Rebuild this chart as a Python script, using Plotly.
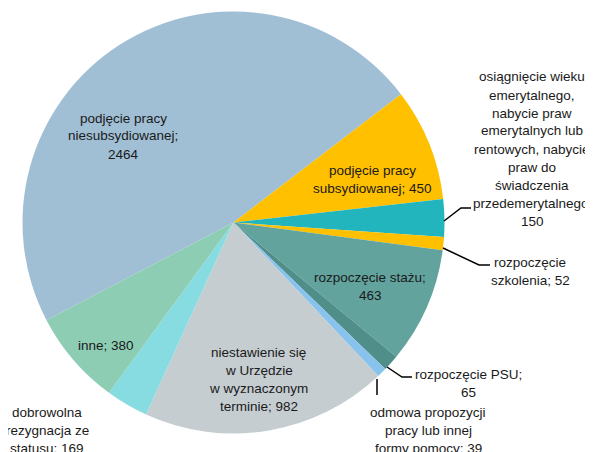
import plotly.graph_objects as go

# page body has an 8px default margin; figure sized so the page fits the window
OFF = 8
W, H = 593 - OFF, 452 - OFF

categories = [
    "podjęcie pracy niesubsydiowanej",
    "podjęcie pracy subsydiowanej",
    "osiągnięcie wieku emerytalnego, nabycie praw emerytalnych lub rentowych, nabycie praw do świadczenia przedemerytalnego",
    "rozpoczęcie szkolenia",
    "rozpoczęcie stażu",
    "rozpoczęcie PSU",
    "odmowa propozycji pracy lub innej formy pomocy",
    "niestawienie się w Urzędzie w wyznaczonym terminie",
    "dobrowolna rezygnacja ze statusu",
    "inne",
]
values = [2464, 450, 150, 52, 463, 65, 39, 982, 169, 380]
colors = ["#A0BFD5", "#FFC000", "#22B5BE", "#FFC000", "#62A39E",
          "#4F8E89", "#87C3EC", "#C5CDD1", "#87DCE1", "#8DCDB4"]

label_lines = [
    ["podjęcie pracy", "niesubsydiowanej;", "2464"],
    ["podjęcie pracy", "subsydiowanej; 450"],
    ["osiągnięcie wieku", "emerytalnego,", "nabycie praw", "emerytalnych lub",
     "rentowych, nabycie", "praw do", "świadczenia", "przedemerytalnego;", "150"],
    ["rozpoczęcie", "szkolenia; 52"],
    ["rozpoczęcie stażu;", "463"],
    ["rozpoczęcie PSU;", "65"],
    ["odmowa propozycji", "pracy lub innej", "formy pomocy; 39"],
    ["niestawienie się", "w Urzędzie", "w wyznaczonym", "terminie; 982"],
    ["dobrowolna", "rezygnacja ze", "statusu; 169"],
    ["inne; 380"],
]
# label placement (center x, first line y) in window pixels
label_pos = [(123, 118), (372, 170), (532, 77), (530, 262), (370, 277),
             (468, 374), (428, 412), (259, 352), (47, 412), (106, 345)]
LINE = 18

FONT = "Liberation Sans, Arial, sans-serif"

cx, cy, r = 233.5, 222.5, 211


def px(x):
    return (x - OFF) / W


def py(y):
    return 1 - (y - OFF) / H


fig = go.Figure(go.Pie(
    labels=categories,
    values=values,
    sort=False,
    direction="clockwise",
    rotation=242.4,
    marker=dict(colors=colors, line=dict(width=0)),
    textinfo="none",
    hoverinfo="label+value",
    showlegend=False,
    domain=dict(x=[px(cx - r), px(cx + r)], y=[py(cy + r), py(cy - r)]),
))

annotations = []
for lines, (x0, y0) in zip(label_lines, label_pos):
    for i, t in enumerate(lines):
        annotations.append(dict(
            x=px(x0), y=py(y0 + i * LINE), xref="paper", yref="paper",
            text=t, showarrow=False, xanchor="center", yanchor="middle",
            font=dict(family=FONT, size=13.5, color="#1a1a1a"),
        ))

leaders = [
    [(444, 221), (461, 208), (471, 208)],
    [(443, 248), (479, 265), (490, 265)],
    [(387, 367), (402, 377), (412, 377)],
    [(377, 379), (377, 395)],
]
shapes = []
for pts in leaders:
    path = "M " + " L ".join(f"{px(x):.5f},{py(y):.5f}" for x, y in pts)
    shapes.append(dict(type="path", path=path, xref="paper", yref="paper",
                       line=dict(color="black", width=1.5)))

fig.update_layout(
    width=W, height=H,
    margin=dict(l=0, r=0, t=0, b=0),
    paper_bgcolor="white",
    plot_bgcolor="white",
    annotations=annotations,
    shapes=shapes,
)

fig.write_html("out.html")
